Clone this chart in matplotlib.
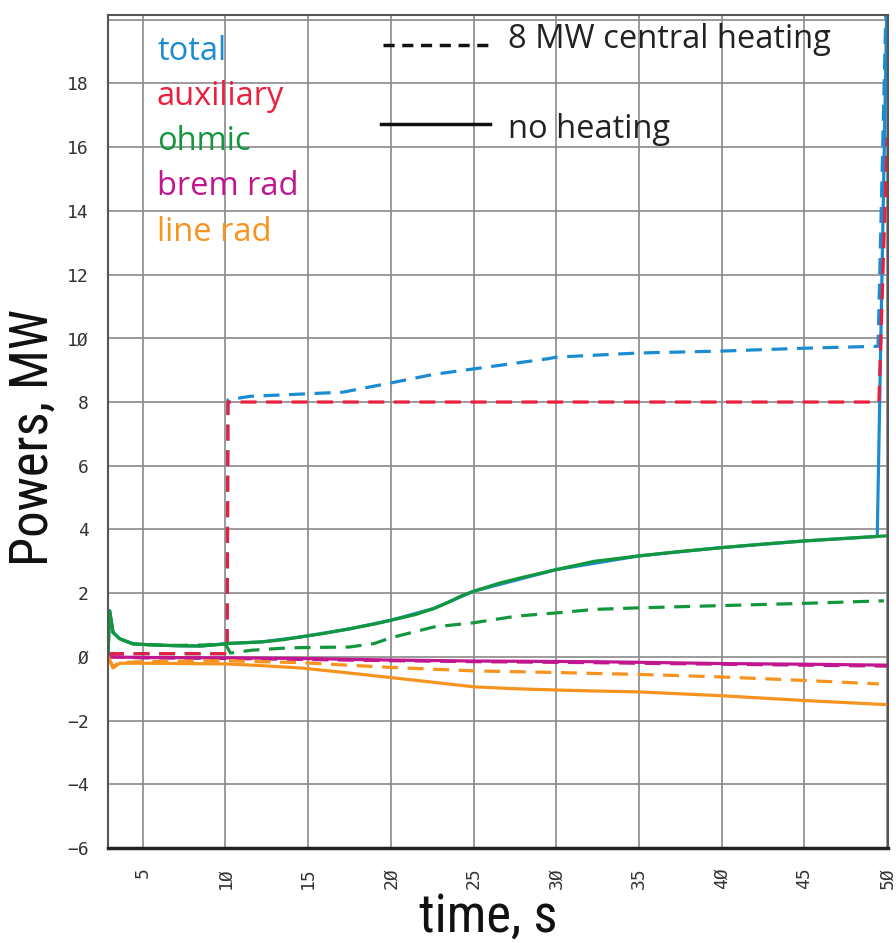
import matplotlib
matplotlib.use('Agg')
import matplotlib.pyplot as plt
from matplotlib import font_manager
from matplotlib.ticker import FuncFormatter

# 颜色
c_total = '#1b8bd2'
c_aux = '#ea1f3d'
c_ohm = '#13973d'
c_brem = '#c21590'
c_line = '#f7931e'

# ---- 数据 ----
# total, 8 MW central heating (dashed)
t_total_h = [2.9, 10.1, 10.15, 11.5, 15, 17.1, 20, 22.6, 25, 29.5, 30, 35, 40, 45, 49.45, 50]
p_total_h = [0.1, 0.1, 8.07, 8.18, 8.26, 8.31, 8.6, 8.87, 9.04, 9.36, 9.41, 9.54, 9.6, 9.69, 9.75, 22]

# total, no heating (solid) - under ohmic until the end
t_total_n = [2.9, 3.0, 3.2, 3.6, 4.4, 5.4, 7, 8.5, 10.1, 12.2, 14.6, 17.5, 20, 22.6, 25, 30, 35, 40, 45, 49.4, 50]
p_total_n = [0.1, 1.45, 0.77, 0.57, 0.41, 0.38, 0.35, 0.34, 0.42, 0.47, 0.63, 0.88, 1.15, 1.52, 2.06, 2.74, 3.17, 3.43, 3.64, 3.78, 21]

# auxiliary, heating (dashed)
t_aux_h = [2.9, 10.1, 10.15, 49.5, 50]
p_aux_h = [0.1, 0.1, 8.0, 8.0, 16.3]

# ohmic
t_ohm_n = [2.9, 3.0, 3.2, 3.6, 4.4, 5.4, 7, 8.5, 9.5, 10.1, 11, 12.2, 13.5, 14.6, 16, 17.5, 19, 20,
           21.5, 22.6, 23.5, 24.2, 25, 26.6, 28, 30, 32.3, 35, 37.5, 40, 42.5, 45, 47.5, 50]
p_ohm_n = [0.1, 1.45, 0.77, 0.57, 0.41, 0.38, 0.35, 0.34, 0.38, 0.42, 0.44, 0.47, 0.54, 0.63, 0.74, 0.88, 1.03, 1.15,
           1.33, 1.52, 1.72, 1.9, 2.06, 2.32, 2.5, 2.74, 3.0, 3.17, 3.31, 3.43, 3.54, 3.64, 3.72, 3.8]
t_ohm_h = [2.9, 3.0, 3.2, 3.6, 4.4, 5.4, 7, 8.5, 10.0, 10.3, 11.6, 13.4, 14.5, 17.5, 19, 20, 22.6, 25,
           27.6, 30, 32.3, 35, 40, 45, 49.8]
p_ohm_h = [0.1, 1.45, 0.77, 0.57, 0.41, 0.38, 0.36, 0.37, 0.4, 0.12, 0.21, 0.27, 0.29, 0.31, 0.42, 0.6, 0.94, 1.07,
           1.28, 1.38, 1.49, 1.54, 1.61, 1.68, 1.76]

# brem rad
t_brem = [2.9, 5, 10, 14.5, 20, 25, 32, 35, 40, 45, 50]
p_brem_n = [0.0, -0.02, -0.03, -0.05, -0.1, -0.13, -0.15, -0.17, -0.21, -0.23, -0.26]
p_brem_h = [0.0, -0.03, -0.05, -0.08, -0.12, -0.15, -0.18, -0.2, -0.23, -0.26, -0.29]

# line rad
t_line_n = [2.9, 3.0, 3.2, 3.6, 5, 7.5, 10, 12, 14.6, 17, 20, 22.6, 25, 27.5, 30, 32.3, 35, 40, 45, 50]
p_line_n = [0.0, -0.1, -0.35, -0.2, -0.2, -0.21, -0.22, -0.27, -0.35, -0.48, -0.65, -0.8, -0.94, -1.0,
            -1.04, -1.07, -1.1, -1.22, -1.37, -1.5]
t_line_h = [2.9, 3.0, 3.2, 3.6, 5, 10, 12, 14.5, 17, 20, 25, 30, 32.3, 35, 40, 45, 49.5]
p_line_h = [0.0, -0.1, -0.3, -0.18, -0.15, -0.12, -0.15, -0.18, -0.25, -0.33, -0.44, -0.49, -0.52, -0.55,
            -0.63, -0.74, -0.85]

legend_names = ['total', 'auxiliary', 'ohmic', 'brem rad', 'line rad']
legend_colors = [c_total, c_aux, c_ohm, c_brem, c_line]

xticks = [5, 10, 15, 20, 25, 30, 35, 40, 45, 50]
yticks = list(range(-6, 21, 2))


# 找一个窄体字 (没有就用普通的)
def pick_narrow_font():
    prefer = ['Liberation Sans Narrow', 'Roboto Condensed', 'Open Sans Condensed', 'Noto Sans',
              'Open Sans', 'Roboto', 'DejaVu Sans']
    found = {}
    for f in font_manager.fontManager.ttflist:
        st = str(f.stretch)
        if f.style != 'normal' or f.weight not in (400, 'normal', 'regular'):
            continue
        if st in ('condensed', 'semi-condensed', 'extra-condensed') or 'Narrow' in f.name or 'Condensed' in f.name:
            found.setdefault(f.name, f.fname)
    for name in prefer:
        if name in found:
            return font_manager.FontProperties(fname=found[name])
    if found:
        return font_manager.FontProperties(fname=list(found.values())[0])
    return font_manager.FontProperties(family='Liberation Sans')


narrow = pick_narrow_font()

# ---- 绘图 ----
fig = plt.figure(figsize=(8.96, 9.43), dpi=100)
ax = fig.add_axes([108 / 896, 95 / 943, 780 / 896, 833 / 943])

lw = 2.3
dash = (5, 3.0)

ax.plot(t_total_n, p_total_n, color=c_total, lw=lw)
ax.plot(t_total_h, p_total_h, color=c_total, lw=lw, ls=(0, dash))
ax.plot(t_aux_h, p_aux_h, color=c_aux, lw=lw, ls=(0, dash))
ax.plot(t_ohm_h, p_ohm_h, color=c_ohm, lw=lw, ls=(0, dash))
ax.plot(t_ohm_n, p_ohm_n, color=c_ohm, lw=lw)
ax.plot(t_brem, p_brem_h, color=c_brem, lw=lw, ls=(0, dash))
ax.plot(t_brem, p_brem_n, color=c_brem, lw=lw)
ax.plot(t_line_h, p_line_h, color=c_line, lw=lw, ls=(0, dash))
ax.plot(t_line_n, p_line_n, color=c_line, lw=lw)

ax.set_xlim(2.9, 50.05)
ax.set_ylim(-6, 20.15)
ax.set_xticks(xticks)
ax.set_yticks(yticks)
ax.grid(True, color='#8a8a8a', lw=1.2)
ax.set_axisbelow(True)


def slash_zero(v):
    return ('%d' % v).replace('0', '\u00d8').replace('-', '\u2212')


ax.xaxis.set_major_formatter(FuncFormatter(lambda v, pos: slash_zero(v)))
ax.yaxis.set_major_formatter(FuncFormatter(lambda v, pos: '' if v >= 19.5 else slash_zero(v)))
ax.tick_params(axis='both', length=0, labelsize=13, colors='#333333')
ax.tick_params(axis='x', pad=14, labelrotation=90)
ax.tick_params(axis='y', pad=14)
for lab in ax.get_xticklabels() + ax.get_yticklabels():
    lab.set_family('DejaVu Sans Mono')

for sp in ax.spines.values():
    sp.set_color('#555555')
    sp.set_linewidth(1.5)
ax.spines['bottom'].set_color('#222222')
ax.spines['bottom'].set_linewidth(2.5)

# 轴标签
fig.text(8 / 896, 1 - 438 / 943, 'Powers, MW', rotation=90, fontproperties=narrow,
         fontsize=38, color='#111111', ha='left', va='center')
fig.text(488 / 896, 1 - 932 / 943, 'time, s', fontproperties=narrow,
         fontsize=38, color='#111111', ha='center', va='baseline')


# 图例文字 (像素位置)
def fx(px):
    return px / 896


def fy(py):
    return 1 - py / 943


leg_font = ['Open Sans', 'DejaVu Sans']
for i, (name, col) in enumerate(zip(legend_names, legend_colors)):
    fig.text(fx(157), fy(51 + 45.3 * i), name, color=col, fontsize=23.5, family=leg_font,
             ha='left', va='center')

fig.add_artist(plt.Line2D([fx(383), fx(495)], [fy(45), fy(45)], color='#111111', lw=2.5,
                          ls=(0, (3.2, 2.2)), transform=fig.transFigure))
fig.add_artist(plt.Line2D([fx(381), fx(490)], [fy(124), fy(124)], color='#111111', lw=2.5,
                          transform=fig.transFigure))
fig.text(fx(508), fy(40), '8 MW central heating', color='#222222', fontsize=23.5, family=leg_font,
         ha='left', va='center')
fig.text(fx(508), fy(130), 'no heating', color='#222222', fontsize=23.5, family=leg_font,
         ha='left', va='center')

plt.savefig('out.png', dpi=100)
